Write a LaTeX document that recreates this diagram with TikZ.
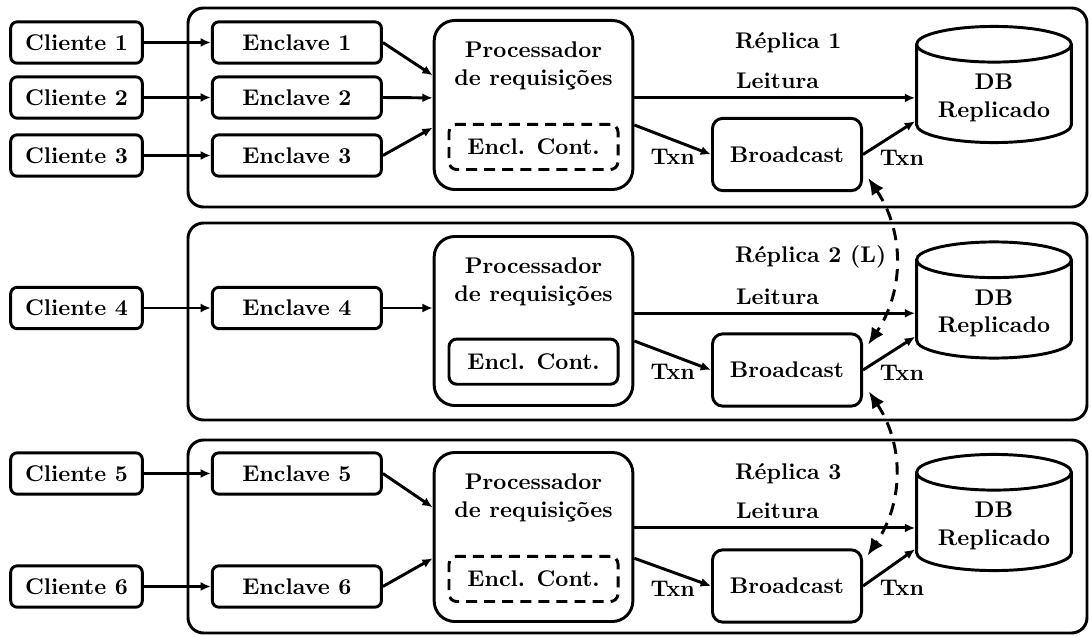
\documentclass[tikz,border=0pt]{standalone}
\usepackage{tikz}
\usetikzlibrary{arrows.meta,positioning,fit,shapes.geometric}
\tikzset{
  box/.style={draw, rounded corners=1mm, align=center, minimum height=6.4mm},
  client/.style={box, minimum width=20.4mm},
  enclave/.style={box, minimum width=26.2mm},
  proc/.style={draw, rounded corners=3.2mm, minimum width=30.8mm, minimum height=26.2mm},
  ctbox/.style={box, rounded corners=1.2mm, minimum width=26.2mm, minimum height=7mm},
  bcast/.style={box, rounded corners=1.6mm, minimum width=23.1mm, minimum height=11.2mm},
  db/.style={cylinder, shape border rotate=90, draw, aspect=0.28, align=center,
             minimum width=24mm, minimum height=18mm},
  replica/.style={draw, rounded corners=2.4mm, inner sep=0pt},
  flow/.style={-{Latex[length=1.6mm,width=1.4mm]}},
  sync/.style={{Latex[length=2.6mm,width=2.2mm]}-{Latex[length=2.6mm,width=2.2mm]},
               dash pattern=on 1.9mm off 1.3mm},
  dashbox/.style={dash pattern=on 1.7mm off 1.1mm}
}

\begin{document}
\begin{tikzpicture}[x=0.155mm, y=0.155mm, line width=1.3pt, font=\bfseries]
  \useasboundingbox (0,0) rectangle (1091,-637);

  % replica frames
  \node[replica, fit={(188,-8) (1087,-207)}] (rep1) {};
  \node[replica, fit={(188,-223) (1087,-420)}] (rep2) {};
  \node[replica, fit={(188,-440) (1087,-633)}] (rep3) {};

  % Replica 1
  \node[client] (c1) at (76.5,-42.5) {Cliente 1};
  \node[client] (c2) at (76.5,-97.5) {Cliente 2};
  \node[client] (c3) at (76.5,-155.5) {Cliente 3};
  \node[enclave, right=10.4mm of c1] (e1) {Enclave 1};
  \node[enclave, right=10.4mm of c2] (e2) {Enclave 2};
  \node[enclave, right=10.4mm of c3] (e3) {Enclave 3};
  \node[proc] (p1) at (533.5,-105) {};
  \node[below=2.2mm of p1.north, align=center] (pt1) {Processador\\de requisições};
  \node[ctbox, dashbox, above=3.1mm of p1.south] (k1) {Encl. Cont.};
  \node[bcast] (b1) at (787,-154.5) {Broadcast};
  \node[db] (d1) at (994,-98) {DB\\Replicado};
  \node[anchor=west] (t1) at (726,-43) {Réplica 1};

  \draw[flow] (c1) -- (e1);
  \draw[flow] (c2) -- (e2);
  \draw[flow] (c3) -- (e3);
  \draw[flow] (e1.east) -- ([yshift=4.6mm]p1.west);
  \draw[flow] (e2.east) -- ([yshift=1.1mm]p1.west);
  \draw[flow] (e3.east) -- ([yshift=-3.5mm]p1.west);
  \coordinate (l1) at ([yshift=1.1mm]p1.east);
  \draw[flow] (l1) -- (l1 -| d1.180) node[pos=0.33, above right] {Leitura};
  \draw[flow] ([yshift=-3.1mm]p1.east) -- (b1.west) node[midway, below] {Txn};
  \draw[flow] (b1.east) -- ([yshift=-3.6mm]d1.180)
    node[pos=0.25, anchor=north west, inner sep=1pt] {Txn};

  % Replica 2 (leader)
  \node[client] (c4) at (76.5,-308) {Cliente 4};
  \node[enclave, right=10.4mm of c4] (e4) {Enclave 4};
  \node[proc] (p2) at (533.5,-321) {};
  \node[below=2.2mm of p2.north, align=center] (pt2) {Processador\\de requisições};
  \node[ctbox, above=3.3mm of p2.south] (k2) {Encl. Cont.};
  \node[bcast] (b2) at (787,-370) {Broadcast};
  \node[db] (d2) at (994,-313.5) {DB\\Replicado};
  \node[anchor=west] (t2) at (726,-257) {Réplica 2 (L)};

  \draw[flow] (c4) -- (e4);
  \draw[flow] (e4) -- (e4 -| p2.west);
  \coordinate (l2) at ([yshift=1.2mm]p2.east);
  \draw[flow] (l2) -- (l2 -| d2.180) node[pos=0.33, above right] {Leitura};
  \draw[flow] ([yshift=-3.1mm]p2.east) -- (b2.west) node[midway, below] {Txn};
  \draw[flow] (b2.east) -- ([yshift=-3.6mm]d2.180)
    node[pos=0.25, anchor=north west, inner sep=1pt] {Txn};

  % Replica 3
  \node[client] (c5) at (76.5,-473.5) {Cliente 5};
  \node[client] (c6) at (76.5,-586.5) {Cliente 6};
  \node[enclave, right=10.4mm of c5] (e5) {Enclave 5};
  \node[enclave, right=10.4mm of c6] (e6) {Enclave 6};
  \node[proc] (p3) at (533.5,-537) {};
  \node[below=2.2mm of p3.north, align=center] (pt3) {Processador\\de requisições};
  \node[ctbox, dashbox, above=3.1mm of p3.south] (k3) {Encl. Cont.};
  \node[bcast] (b3) at (787,-586) {Broadcast};
  \node[db] (d3) at (994,-526) {DB\\Replicado};
  \node[anchor=west] (t3) at (726,-474) {Réplica 3};

  \draw[flow] (c5) -- (e5);
  \draw[flow] (c6) -- (e6);
  \draw[flow] (e5.east) -- ([yshift=4.6mm]p3.west);
  \draw[flow] (e6.east) -- ([yshift=-3.3mm]p3.west);
  \coordinate (l3) at ([yshift=1.4mm]p3.east);
  \draw[flow] (l3) -- (l3 -| d3.180) node[pos=0.33, above right] {Leitura};
  \draw[flow] ([yshift=-3.3mm]p3.east) -- (b3.west) node[midway, below] {Txn};
  \draw[flow] (b3.east) -- ([yshift=-3.6mm]d3.180)
    node[pos=0.25, anchor=north west, inner sep=1pt] {Txn};

  % leader broadcast to the other replicas
  \draw[sync] ([xshift=0.8mm,yshift=2.2mm]b1.south east) to[bend left=34]
              ([xshift=0.8mm,yshift=-1.9mm]b2.north east);
  \draw[sync] ([xshift=0.9mm,yshift=2.5mm]b2.south east) to[bend left=34]
              ([xshift=0.7mm,yshift=-1.1mm]b3.north east);
\end{tikzpicture}
\end{document}
